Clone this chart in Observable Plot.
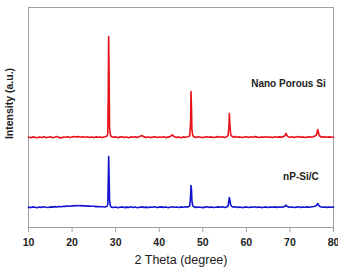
<!DOCTYPE html>
<html>
<head>
<meta charset="utf-8">
<script src="https://cdn.jsdelivr.net/npm/d3@7"></script>
<script src="https://cdn.jsdelivr.net/npm/@observablehq/plot@0.6"></script>
<style>
  html, body { margin: 0; padding: 0; background: #fff; }
  #chart svg { font-family: Arial, "Liberation Sans", sans-serif; }
  #chart g[aria-label="x-axis tick label"] { font-weight: bold; font-size: 10.5px; }
</style>
</head>
<body>
<div id="chart"></div>
<script>
// 2θ positions (degrees), shared by both XRD patterns
const theta = [
  10,10.5,11,11.5,12,12.5,13,13.5,14,14.5,15,15.5,16,16.5,17,17.5,18,18.5,19,19.5,
  20,20.5,21,21.5,22,22.5,23,23.5,24,24.5,25,25.5,26,26.5,27,27.5,
  28,28.2,28.3,28.4,28.5,28.6,28.8,
  29,29.5,30,30.5,31,31.5,32,32.5,33,33.5,34,34.5,35,35.5,36,36.5,37,37.5,38,38.5,
  39,39.5,40,40.5,41,41.5,42,42.5,43,43.5,44,44.5,45,45.5,46,46.5,
  47,47.2,47.3,47.4,47.5,47.7,
  48,48.5,49,49.5,50,50.5,51,51.5,52,52.5,53,53.5,54,54.5,55,55.5,
  55.8,56,56.1,56.2,56.4,
  56.7,57,57.5,58,58.5,59,59.5,60,60.5,61,61.5,62,62.5,63,63.5,64,64.5,65,65.5,66,66.5,
  67,67.5,68,68.5,
  68.9,69.1,69.3,
  69.6,70,70.5,71,71.5,72,72.5,73,73.5,74,74.5,75,75.5,
  76.1,76.3,76.4,76.5,76.7,
  77,77.5,78,78.5,79,79.5,80
];

// Intensity (a.u.) of the nano porous Si pattern
const nanoPorousSi = [
  20.4,19.8,20.6,20.1,19.7,20.5,20.0,20.8,19.9,20.3,20.7,19.8,20.2,20.9,20.1,19.6,20.5,20.3,20.8,20.0,
  20.6,21.0,20.4,20.9,20.2,20.7,20.3,20.8,20.1,20.5,19.9,20.6,20.2,20.4,20.0,20.7,
  21.2,24,62,121,82,30,22.5,
  21.0,20.3,20.6,19.9,20.4,20.8,20.1,20.5,19.8,20.6,20.2,20.7,20.0,20.9,22.0,20.6,20.1,20.5,19.9,20.4,
  20.8,20.0,20.5,20.2,20.7,19.9,20.4,20.9,22.6,20.7,20.1,20.5,19.8,20.6,20.2,20.8,
  21.5,34,66,50,28,21.8,
  20.6,20.1,20.7,20.3,19.9,20.5,20.8,20.2,20.6,20.0,20.4,20.9,20.3,20.7,20.1,20.8,
  21.8,31,44,35,23,
  21.2,20.4,20.9,20.2,20.6,20.0,20.5,20.8,20.1,20.7,20.3,20.9,20.4,20.0,20.6,20.2,20.8,20.3,20.5,19.9,20.7,
  20.2,20.6,20.4,20.9,
  22.0,24.2,22.2,
  20.8,20.3,20.7,20.1,20.5,20.9,20.2,20.6,20.0,20.4,20.8,20.3,20.9,
  22.5,26.5,28,26,22.4,
  20.9,20.4,20.7,20.2,20.6,20.3,20.5
];

// Intensity (a.u.) of the nP-Si/C composite pattern
const npSiC = [
  20.4,19.9,20.6,20.2,19.8,20.5,20.1,20.7,20.3,20.0,20.6,20.4,20.9,20.5,21.0,20.8,21.3,21.1,21.5,21.3,
  21.8,21.6,22.0,21.7,21.9,21.6,21.8,21.4,21.5,21.2,21.3,20.9,21.0,20.7,20.8,20.5,
  21.0,23,46,71,51,27,21.5,
  20.4,20.0,20.5,19.8,20.3,20.6,19.9,20.4,20.1,20.7,20.0,20.5,19.8,20.3,20.6,20.1,20.4,19.9,20.5,20.2,
  20.7,20.0,20.4,20.6,20.1,20.5,19.9,20.3,20.7,20.2,20.5,20.0,20.6,20.3,20.8,20.4,
  21.5,31,42,38,27,21.6,
  20.6,20.1,20.5,20.2,19.9,20.4,20.7,20.1,20.5,20.0,20.3,20.6,20.2,20.7,20.1,20.5,
  21.5,27,30,28,22.5,
  21.0,20.4,20.7,20.1,20.5,19.9,20.3,20.6,20.0,20.4,20.2,20.7,20.1,20.5,19.9,20.3,20.6,20.0,20.4,20.2,20.6,
  20.1,20.5,20.3,20.6,
  21.4,22.4,21.3,
  20.6,20.2,20.5,20.0,20.4,20.7,20.1,20.5,20.2,20.6,20.3,20.7,21.0,
  22.0,23.5,24,23.3,21.6,
  20.7,20.3,20.5,20.1,20.4,20.2,20.4
];

const seriesNames = ["Nano Porous Si", "nP-Si/C"];
const seriesColors = ["#e8121a", "#1414d2"];
const stackOffset = [70, 0];   // vertical offset used to stack the patterns
const xTicks = [10, 20, 30, 40, 50, 60, 70, 80];

const rows = [];
[nanoPorousSi, npSiC].forEach((values, s) => {
  values.forEach((v, i) => {
    rows.push({series: seriesNames[s], theta: theta[i], intensity: v + stackOffset[s]});
  });
});

const chart = Plot.plot({
  width: 338,
  height: 270,
  marginLeft: 28,
  marginRight: 5,
  marginTop: 7,
  marginBottom: 43,
  style: {background: "#fff", color: "#222"},
  x: {domain: [10, 80]},
  y: {domain: [0, 220]},
  color: {domain: seriesNames, range: seriesColors},
  marks: [
    Plot.frame({stroke: "#a0a0a0"}),
    Plot.axisX({
      ticks: xTicks,
      tickSize: 5,
      tickPadding: 6,
      stroke: "#a0a0a0",
      label: null
    }),
    Plot.axisY({ticks: [], label: null}),
    Plot.line(rows, {
      x: "theta", y: "intensity", z: "series", stroke: "series",
      strokeWidth: 1.6, curve: "linear"
    }),
    Plot.text(["2 Theta (degree)"], {
      frameAnchor: "bottom", dy: 36, textAnchor: "middle",
      fontSize: 12.5, fill: "#222"
    }),
    Plot.text(["Intensity (a.u.)"], {
      frameAnchor: "left", textAnchor: "middle", rotate: -90, dx: -19, dy: -14,
      fontSize: 10.5, fontWeight: "bold", fill: "#222"
    }),
    Plot.text([seriesNames[0]], {
      x: 78.2, y: 144, textAnchor: "end",
      fontSize: 10, fontWeight: "bold", fill: "#222"
    }),
    Plot.text([seriesNames[1]], {
      x: 76.6, y: 51, textAnchor: "end",
      fontSize: 10, fontWeight: "bold", fill: "#222"
    })
  ]
});

document.getElementById("chart").appendChild(chart);
</script>
</body>
</html>
